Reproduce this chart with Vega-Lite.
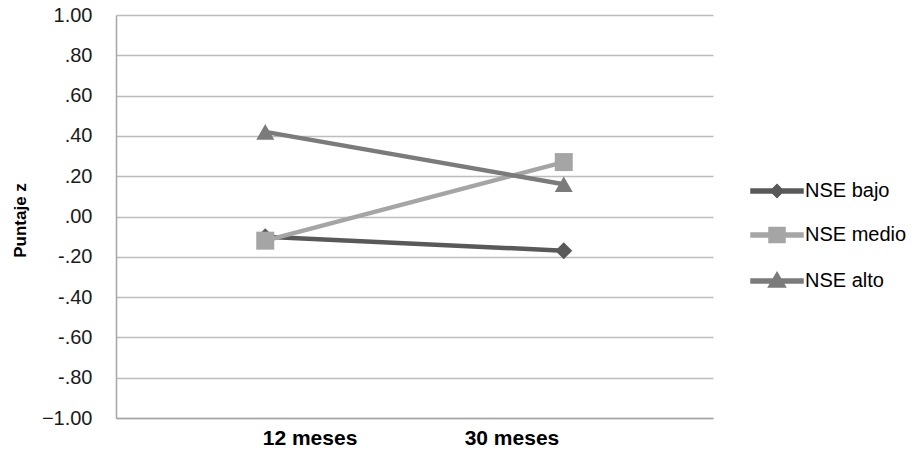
{
  "$schema": "https://vega.github.io/schema/vega-lite/v6.json",
  "width": 597,
  "height": 403,
  "autosize": {"type": "none"},
  "padding": {"left": 116, "top": 15, "right": 206, "bottom": 35},
  "background": "white",
  "data": {
    "values": [
      {"serie": "NSE bajo", "mes": "12 meses", "z": -0.10},
      {"serie": "NSE bajo", "mes": "30 meses", "z": -0.17},
      {"serie": "NSE medio", "mes": "12 meses", "z": -0.12},
      {"serie": "NSE medio", "mes": "30 meses", "z": 0.27},
      {"serie": "NSE alto", "mes": "12 meses", "z": 0.42},
      {"serie": "NSE alto", "mes": "30 meses", "z": 0.16}
    ]
  },
  "encoding": {
    "x": {
      "field": "mes", "type": "nominal", "sort": ["12 meses", "30 meses"],
      "scale": {"type": "point", "padding": 0.5},
      "axis": {
        "title": null, "labelAngle": 0, "ticks": false, "grid": false,
        "domainColor": "#A6A6A6", "domainWidth": 1.5,
        "labelFont": "Liberation Sans", "labelFontSize": 21, "labelFontWeight": "bold",
        "labelColor": "#000000", "labelPadding": 9, "labelBaseline": "top",
        "labelAlign": {"expr": "datum.value === '12 meses' ? 'left' : 'right'"},
        "labelOffset": {"expr": "datum.value === '12 meses' ? -3 : -5"}
      }
    },
    "y": {
      "field": "z", "type": "quantitative",
      "scale": {"domain": [-1, 1], "nice": false, "zero": false},
      "axis": {
        "title": "Puntaje z", "values": [-1, -0.8, -0.6, -0.4, -0.2, 0, 0.2, 0.4, 0.6, 0.8, 1],
        "labelExpr": "abs(datum.value) < 1 ? (datum.value < 0 ? '-' : '') + slice(format(abs(datum.value), '.2f'), 1) : format(datum.value, '.2f')",
        "ticks": false, "grid": true, "gridColor": "#BDBDBD", "gridWidth": 1.3,
        "domainColor": "#A6A6A6", "domainWidth": 1.5,
        "labelFont": "Liberation Sans", "labelFontSize": 20, "labelColor": "#1A1A1A", "labelPadding": 24,
        "titleFont": "Liberation Sans", "titleFontSize": 17, "titleFontWeight": "bold", "titleColor": "#000000",
        "titlePadding": 12, "titleY": 205
      }
    }
  },
  "layer": [
    {
      "mark": {"type": "point", "filled": true, "opacity": 0, "size": 400},
      "encoding": {
        "color": {
          "field": "serie", "type": "nominal",
          "scale": {"domain": ["NSE bajo", "NSE medio", "NSE alto"], "range": ["#595959", "#A5A5A5", "#7B7B7B"]},
          "legend": {
            "title": null, "orient": "none", "legendX": 650, "legendY": 165,
            "symbolSize": 400, "symbolOpacity": 1, "rowPadding": 23, "labelOffset": 17,
            "labelFont": "Liberation Sans", "labelFontSize": 20, "labelColor": "#000000"
          }
        },
        "shape": {
          "field": "serie", "type": "nominal",
          "scale": {
            "domain": ["NSE bajo", "NSE medio", "NSE alto"],
            "range": [
              "M-2.6,-0.2H2.6V0.2H-2.6Z M0,-0.65L0.65,0L0,0.65L-0.65,0Z",
              "M-2.6,-0.2H2.6V0.2H-2.6Z M-0.8,-0.75H0.8V0.75H-0.8Z",
              "M-2.6,-0.2H2.6V0.2H-2.6Z M0,-0.85L0.85,0.6L-0.85,0.6Z"
            ]
          },
          "legend": {
            "title": null, "orient": "none", "legendX": 650, "legendY": 165,
            "symbolSize": 400, "symbolOpacity": 1, "rowPadding": 23, "labelOffset": 17,
            "labelFont": "Liberation Sans", "labelFontSize": 20, "labelColor": "#000000"
          }
        }
      }
    },
    {
      "mark": {"type": "line", "strokeWidth": 4.5},
      "encoding": {"color": {"field": "serie", "type": "nominal"}}
    },
    {
      "transform": [{"filter": "datum.serie === 'NSE bajo'"}],
      "mark": {"type": "point", "filled": true, "opacity": 1, "shape": "diamond", "size": 289},
      "encoding": {"color": {"field": "serie", "type": "nominal"}}
    },
    {
      "transform": [{"filter": "datum.serie === 'NSE medio'"}],
      "mark": {"type": "point", "filled": true, "opacity": 1, "shape": "square", "size": 324},
      "encoding": {"color": {"field": "serie", "type": "nominal"}}
    },
    {
      "transform": [{"filter": "datum.serie === 'NSE alto'"}],
      "mark": {"type": "point", "filled": true, "opacity": 1, "shape": "triangle-up", "size": 324},
      "encoding": {"color": {"field": "serie", "type": "nominal"}}
    }
  ],
  "config": {"view": {"stroke": null}}
}
